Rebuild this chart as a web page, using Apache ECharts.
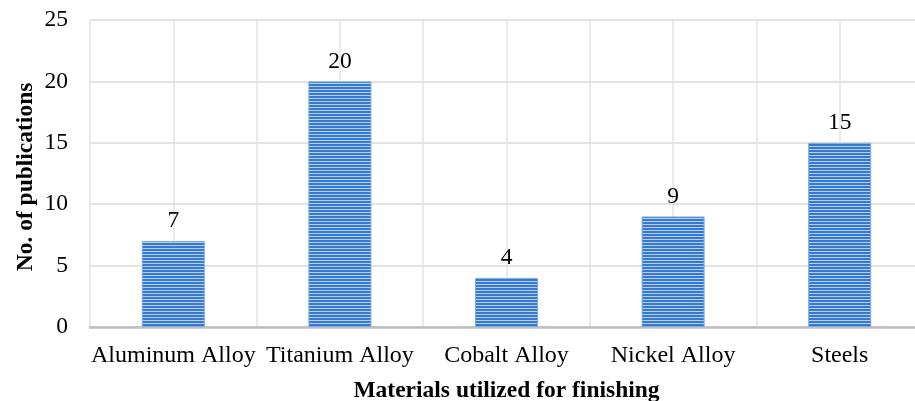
<!DOCTYPE html>
<html>
<head>
<meta charset="utf-8">
<script src="https://cdn.jsdelivr.net/npm/echarts@6/dist/echarts.min.js"></script>
<style>
  html, body { margin: 0; padding: 0; background: #fff; }
  #chart { width: 915px; height: 401px; }
</style>
</head>
<body>
<div id="chart"></div>
<script>
// Materials and number of publications per material
const categories = ['Aluminum Alloy', 'Titanium Alloy', 'Cobalt Alloy', 'Nickel Alloy', 'Steels'];
const publications = [7, 20, 4, 9, 15];
const yTicks = { min: 0, max: 25, interval: 5 };
const yTitle = 'No. of publications';
const xTitle = 'Materials utilized for finishing';

const FONT = '"Liberation Serif", "Times New Roman", serif';
const FS = 23.5;

// Horizontal-stripe fill for the bars
function stripePattern() {
  const c = document.createElement('canvas');
  c.width = 4; c.height = 3;
  const ctx = c.getContext('2d');
  ctx.fillStyle = '#3679d3'; ctx.fillRect(0, 0, 4, 2);
  ctx.fillStyle = '#b5d0f0'; ctx.fillRect(0, 2, 4, 1);
  return c;
}

const chart = echarts.init(document.getElementById('chart'), null, { renderer: 'canvas' });
chart.setOption({
  animation: false,
  backgroundColor: '#ffffff',
  grid: { left: 90, top: 20, width: 833, bottom: 74, containLabel: false, outerBoundsMode: 'none' },
  // vertical y-axis title, placed beside the tick labels
  graphic: [{
    type: 'text',
    x: 26,
    y: 177,
    rotation: Math.PI / 2,
    style: {
      text: yTitle,
      fill: '#000',
      font: 'bold 23.5px ' + FONT,
      textAlign: 'center',
      textVerticalAlign: 'middle'
    }
  }],
  xAxis: [
    {
      type: 'category',
      data: categories,
      boundaryGap: true,
      axisLine: { show: true, lineStyle: { color: '#bfbfbf', width: 2.5 } },
      axisTick: { show: false },
      axisLabel: { color: '#000', fontFamily: FONT, fontSize: 24, margin: 17, interval: 0 },
      splitLine: { show: false },
      name: xTitle,
      nameLocation: 'middle',
      nameGap: 52,
      nameTextStyle: { color: '#000', fontFamily: FONT, fontSize: FS, fontWeight: 'bold' }
    },
    {
      // half-category vertical gridlines
      type: 'value',
      min: 0, max: categories.length * 2, interval: 1,
      position: 'bottom',
      axisLine: { show: false },
      axisTick: { show: false },
      axisLabel: { show: false },
      splitLine: { show: true, lineStyle: { color: '#e3e3e3', width: 1.5 } }
    }
  ],
  yAxis: {
    type: 'value',
    min: yTicks.min, max: yTicks.max, interval: yTicks.interval,
    axisLine: { show: false },
    axisTick: { show: false },
    axisLabel: { color: '#000', fontFamily: FONT, fontSize: FS, margin: 22 },
    splitLine: { show: true, lineStyle: { color: '#d9d9d9', width: 1.5 } }
  },
  series: [{
    type: 'bar',
    xAxisIndex: 0,
    data: publications,
    barWidth: 63,
    itemStyle: {
      color: { image: stripePattern(), repeat: 'repeat' },
      borderColor: '#7aa8e0',
      borderWidth: 1
    },
    label: {
      show: true,
      position: 'top',
      distance: 8,
      color: '#000',
      fontFamily: FONT,
      fontSize: FS
    }
  }]
});
</script>
</body>
</html>
